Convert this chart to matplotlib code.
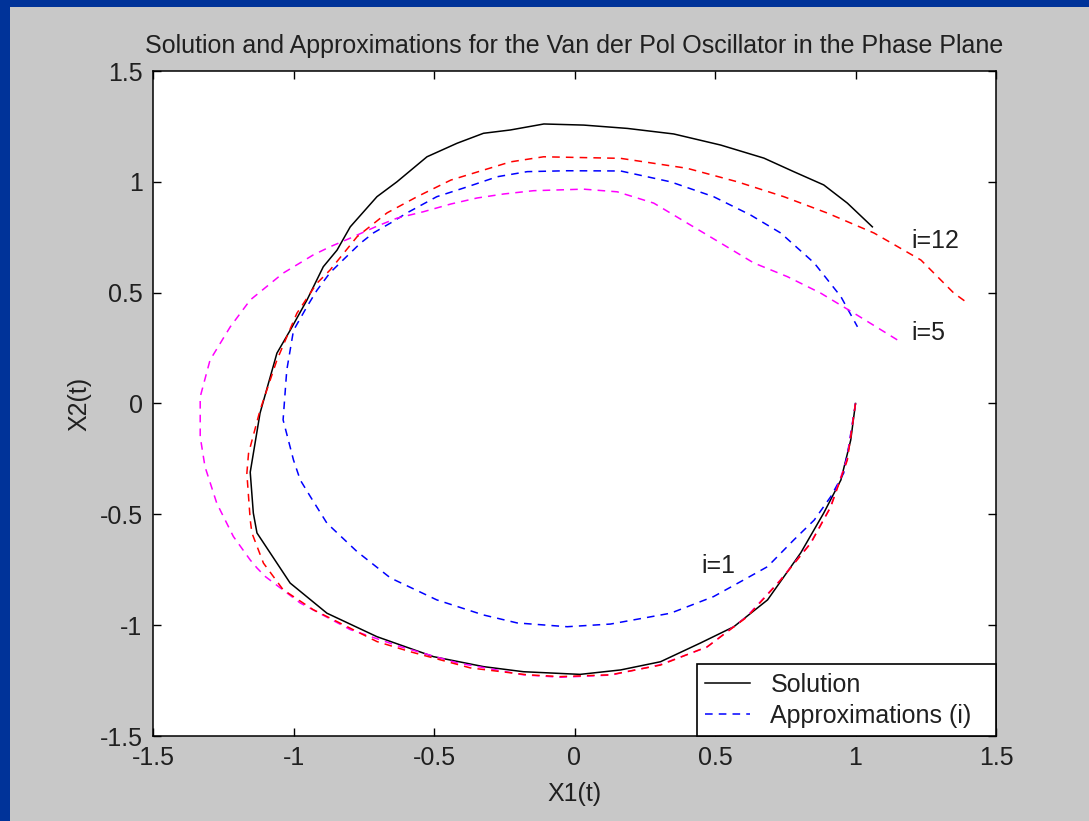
import matplotlib
matplotlib.use("Agg")
import matplotlib.pyplot as plt
from matplotlib.patches import Rectangle

plt.rcParams['font.family'] = ['Liberation Sans', 'DejaVu Sans']

# exact solution (starts at (1,0), runs clockwise)
sol_x = [1.0, 0.983, 0.948, 0.887, 0.805, 0.687, 0.567, 0.449, 0.306, 0.164, 0.02,
         -0.182, -0.324, -0.502, -0.703, -0.881, -1.012, -1.13, -1.143, -1.154, -1.119,
         -1.059, -1.012, -0.952, -0.894, -0.845, -0.798, -0.703, -0.632, -0.525, -0.418,
         -0.324, -0.228, -0.109, 0.033, 0.188, 0.353, 0.52, 0.674, 0.78, 0.887, 0.971, 1.06]
sol_y = [0.0, -0.165, -0.345, -0.494, -0.674, -0.886, -1.007, -1.08, -1.165, -1.202, -1.222,
         -1.21, -1.187, -1.142, -1.052, -0.946, -0.81, -0.584, -0.494, -0.31, -0.043,
         0.227, 0.33, 0.467, 0.617, 0.692, 0.797, 0.933, 1.0, 1.113, 1.174,
         1.219, 1.234, 1.261, 1.256, 1.241, 1.216, 1.166, 1.107, 1.046, 0.986, 0.904, 0.797]

# approximation i=1 (blue)
i1_x = [1.0, 0.975, 0.958, 0.912, 0.853, 0.78, 0.687, 0.602, 0.495, 0.342, 0.246, 0.128,
        -0.026, -0.204, -0.324, -0.49, -0.655, -0.774, -0.881, -0.94, -0.976, -1.0, -1.037,
        -1.024, -1.0, -0.952, -0.917, -0.87, -0.82, -0.762, -0.715, -0.655, -0.596, -0.49,
        -0.38, -0.275, -0.168, -0.026, 0.164, 0.342, 0.495, 0.627, 0.734, 0.853, 0.948, 1.007]
i1_y = [0.0, -0.2, -0.314, -0.42, -0.526, -0.616, -0.736, -0.796, -0.871, -0.946, -0.968, -0.995,
        -1.007, -0.99, -0.954, -0.886, -0.787, -0.668, -0.54, -0.42, -0.345, -0.255, -0.074,
        0.15, 0.33, 0.437, 0.51, 0.59, 0.652, 0.723, 0.77, 0.814, 0.86, 0.933,
        0.978, 1.023, 1.046, 1.05, 1.049, 1.0, 0.933, 0.85, 0.769, 0.634, 0.482, 0.346]

# approximation i=5 (magenta)
i5_x = [1.0, 0.97, 0.91, 0.84, 0.73, 0.61, 0.47, 0.30, 0.13, -0.05, -0.182, -0.418, -0.62,
        -0.798, -0.976, -1.10, -1.13, -1.154, -1.214, -1.273, -1.315, -1.332, -1.332, -1.297,
        -1.225, -1.154, -1.037, -0.93, -0.87, -0.798, -0.703, -0.632, -0.538, -0.44, -0.347,
        -0.253, -0.146, 0.032, 0.152, 0.282, 0.401, 0.52, 0.638, 0.758, 0.876, 0.994, 1.15]
i5_y = [0.0, -0.25, -0.47, -0.63, -0.80, -0.965, -1.10, -1.18, -1.225, -1.235, -1.224, -1.17, -1.097,
        -1.02, -0.90, -0.781, -0.742, -0.706, -0.60, -0.45, -0.285, -0.15, 0.03, 0.196,
        0.346, 0.467, 0.588, 0.67, 0.707, 0.746, 0.80, 0.836, 0.865, 0.90, 0.927,
        0.945, 0.96, 0.967, 0.955, 0.904, 0.814, 0.724, 0.634, 0.572, 0.498, 0.408, 0.286]

# approximation i=12 (red)
i12_x = [1.0, 0.971, 0.912, 0.841, 0.734, 0.615, 0.473, 0.306, 0.128, -0.05, -0.168, -0.37,
         -0.584, -0.703, -0.93, -1.037, -1.107, -1.148, -1.154, -1.166, -1.16, -1.119, -1.059,
         -0.988, -0.917, -0.87, -0.822, -0.774, -0.667, -0.56, -0.44, -0.228, -0.11, 0.164,
         0.401, 0.58, 0.745, 0.90, 1.066, 1.233, 1.35, 1.399]
i12_y = [0.0, -0.255, -0.466, -0.63, -0.796, -0.962, -1.097, -1.18, -1.224, -1.232, -1.224, -1.193,
         -1.12, -1.074, -0.93, -0.84, -0.72, -0.584, -0.525, -0.315, -0.225, -0.03, 0.196,
         0.407, 0.542, 0.602, 0.677, 0.752, 0.86, 0.933, 1.008, 1.09, 1.113, 1.106,
         1.061, 1.0, 0.933, 0.859, 0.769, 0.647, 0.498, 0.453]

ticks = [-1.5, -1, -0.5, 0, 0.5, 1, 1.5]
tick_labels = ['-1.5', '-1', '-0.5', '0', '0.5', '1', '1.5']

W, H = 1089, 821
fig = plt.figure(figsize=(W / 100, H / 100), dpi=100)
fig.patch.set_facecolor('#003399')
fig.patches.append(Rectangle((10 / W, 0), 1, 1 - 7 / H, transform=fig.transFigure,
                             facecolor='#c8c8c8', edgecolor='none', zorder=-10))

ax = fig.add_axes([153 / W, 85 / H, (996 - 153) / W, (736 - 71) / H])
ax.set_facecolor('white')

dash = (5, 4)
ax.plot(sol_x, sol_y, color='black', lw=1.1, label='Solution')
ax.plot(i1_x, i1_y, color='blue', lw=1.1, ls='--', dashes=dash, label='Approximations (i)')
ax.plot(i5_x, i5_y, color='magenta', lw=1.1, ls='--', dashes=dash)
ax.plot(i12_x, i12_y, color='red', lw=1.1, ls='--', dashes=dash)

fs = 18
txt = '#202020'
ax.text(1.2, 0.735, 'i=12', fontsize=fs, va='center', ha='left', color=txt)
ax.text(1.2, 0.32, 'i=5', fontsize=fs, va='center', ha='left', color=txt)
ax.text(0.45, -0.735, 'i=1', fontsize=fs, va='center', ha='left', color=txt)

ax.set_xlim(-1.5, 1.5)
ax.set_ylim(-1.5, 1.5)
ax.set_xticks(ticks)
ax.set_xticklabels(tick_labels)
ax.set_yticks(ticks)
ax.set_yticklabels(tick_labels)
ax.tick_params(direction='in', length=6, width=1, top=True, right=True,
               labelsize=fs, colors='black', labelcolor=txt)
ax.tick_params(axis='x', pad=7)
ax.tick_params(axis='y', pad=7.5)
for s in ax.spines.values():
    s.set_linewidth(1.1)
    s.set_color('black')

ax.set_title('Solution and Approximations for the Van der Pol Oscillator in the Phase Plane',
             fontsize=fs, pad=13, color=txt)
ax.set_xlabel('X1(t)', fontsize=fs, labelpad=8.5, color=txt)
ax.set_ylabel('X2(t)', fontsize=fs, labelpad=6, color=txt)

leg = ax.legend(loc='lower left', bbox_to_anchor=(0.6453, 0, 0.3547, 0.1), mode='expand',
                fontsize=fs, borderaxespad=0, fancybox=False,
                edgecolor='black', framealpha=1, handlelength=1.8, handletextpad=0.8,
                labelspacing=0.28, borderpad=0.34)
leg.get_frame().set_linewidth(1.2)
for t in leg.get_texts():
    t.set_color(txt)

fig.savefig('out.png', dpi=100, facecolor=fig.get_facecolor())
